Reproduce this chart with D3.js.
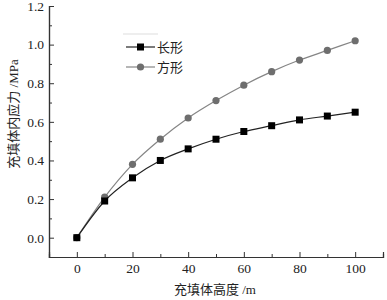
<!DOCTYPE html>
<html>
<head>
<meta charset="utf-8">
<script src="https://cdn.jsdelivr.net/npm/d3@7"></script>
<style>
  body { margin: 0; background: #fff; }
  text { font-family: "Liberation Serif", "Noto Sans CJK SC", serif; }
</style>
</head>
<body>
<div id="chart"></div>
<script>
var w = 387;
var h = 300;

// data
var heights = [0, 10, 20, 30, 40, 50, 60, 70, 80, 90, 100];
var longShape = [0, 0.19, 0.31, 0.40, 0.46, 0.51, 0.55, 0.58, 0.61, 0.63, 0.65];
var squareShape = [0, 0.21, 0.38, 0.51, 0.62, 0.71, 0.79, 0.86, 0.92, 0.97, 1.02];
var seriesNames = ["长形", "方形"];
var xTicks = [0, 20, 40, 60, 80, 100];
var yTicks = [0, 0.2, 0.4, 0.6, 0.8, 1.0, 1.2];

var margin = { left: 49, right: 4, top: 6, bottom: 43 };

var svg = d3.select("#chart")
            .append("svg")
            .attr("width", w)
            .attr("height", h);

var xScale = d3.scaleLinear()
               .domain([-10, 110])
               .range([margin.left, w - margin.right]);

var yScale = d3.scaleLinear()
               .domain([-0.1, 1.2])
               .range([h - margin.bottom, margin.top]);

// axes, ticks pointing inward
var xAxis = d3.axisBottom(xScale)
              .tickValues(xTicks)
              .tickSize(-5)
              .tickPadding(6)
              .tickFormat(d3.format("d"));
var xMinor = d3.axisBottom(xScale)
               .tickValues([10, 30, 50, 70, 90, 110])
               .tickSize(-3)
               .tickFormat("");

var yAxis = d3.axisLeft(yScale)
              .tickValues(yTicks)
              .tickSize(-5)
              .tickPadding(5)
              .tickFormat(d3.format(".1f"));
var yMinor = d3.axisLeft(yScale)
               .tickValues([0.1, 0.3, 0.5, 0.7, 0.9, 1.1])
               .tickSize(-3)
               .tickFormat("");

[xAxis, xMinor].forEach(function(ax) {
    svg.append("g")
       .attr("transform", "translate(0," + (h - margin.bottom) + ")")
       .call(ax);
});
[yAxis, yMinor].forEach(function(ax) {
    svg.append("g")
       .attr("transform", "translate(" + margin.left + ",0)")
       .call(ax);
});

svg.selectAll(".domain").attr("stroke", "#333").attr("stroke-width", 1.2);
svg.selectAll(".tick line").attr("stroke", "#333");
svg.selectAll(".tick text")
   .attr("font-size", 13.5)
   .attr("fill", "#222")
   .style("font-family", "'Liberation Serif', serif");

// axis titles
svg.append("text")
   .attr("x", 215)
   .attr("y", 294)
   .attr("text-anchor", "middle")
   .attr("font-size", 13)
   .attr("fill", "#222")
   .text("充填体高度 /m");

svg.append("text")
   .attr("transform", "translate(18,114) rotate(-90)")
   .attr("text-anchor", "middle")
   .attr("font-size", 13)
   .attr("fill", "#222")
   .text("充填体内应力 /MPa");

var line = d3.line()
             .x(function(d, i) { return xScale(heights[i]); })
             .y(function(d) { return yScale(d); })
             .curve(d3.curveMonotoneX);

// square-section series (gray circles)
svg.append("path")
   .datum(squareShape)
   .attr("d", line)
   .attr("fill", "none")
   .attr("stroke", "#858585")
   .attr("stroke-width", 1.2);

svg.selectAll(".sq")
   .data(squareShape)
   .enter()
   .append("circle")
   .attr("cx", function(d, i) { return xScale(heights[i]); })
   .attr("cy", function(d) { return yScale(d); })
   .attr("r", 3.6)
   .attr("fill", "#6e6e6e");

// long-section series (black squares)
svg.append("path")
   .datum(longShape)
   .attr("d", line)
   .attr("fill", "none")
   .attr("stroke", "#222")
   .attr("stroke-width", 1.2);

svg.selectAll(".lg")
   .data(longShape)
   .enter()
   .append("rect")
   .attr("x", function(d, i) { return xScale(heights[i]) - 3.5; })
   .attr("y", function(d) { return yScale(d) - 3.5; })
   .attr("width", 7)
   .attr("height", 7)
   .attr("fill", "#000");

// legend
var legend = svg.append("g");
legend.append("line")
      .attr("x1", 123).attr("x2", 158)
      .attr("y1", 34).attr("y2", 34)
      .attr("stroke", "#ddd");

var legendColors = ["#222", "#858585"];
seriesNames.forEach(function(name, i) {
    var y = 47 + i * 20;
    legend.append("line")
          .attr("x1", 126).attr("x2", 155)
          .attr("y1", y).attr("y2", y)
          .attr("stroke", legendColors[i])
          .attr("stroke-width", 1.2);
    if (i === 0) {
        legend.append("rect")
              .attr("x", 137).attr("y", y - 3.5)
              .attr("width", 7).attr("height", 7)
              .attr("fill", "#000");
    } else {
        legend.append("circle")
              .attr("cx", 140.5).attr("cy", y)
              .attr("r", 3.6)
              .attr("fill", "#6e6e6e");
    }
    legend.append("text")
          .attr("x", 157)
          .attr("y", y + 4.5)
          .attr("font-size", 13)
          .attr("fill", "#222")
          .text(name);
});
</script>
</body>
</html>
